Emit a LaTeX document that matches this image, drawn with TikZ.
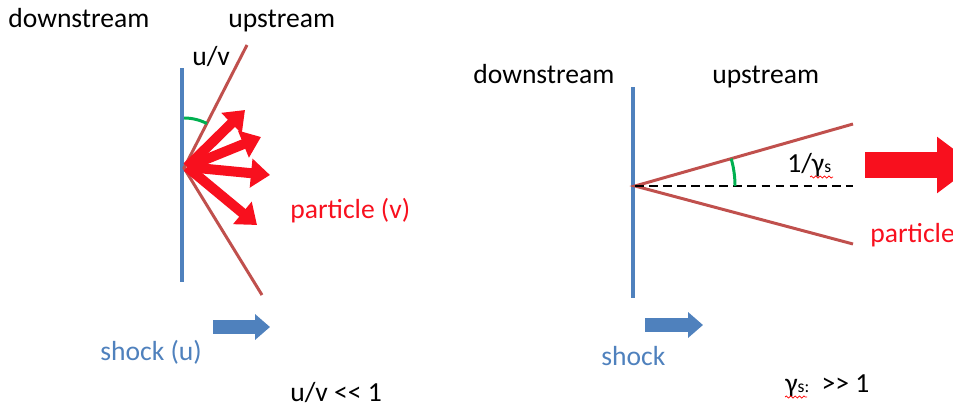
\documentclass[tikz,border=0pt]{standalone}
\usepackage{fontspec}
\setmainfont{Carlito}
\usetikzlibrary{calc,arrows.meta,decorations.pathmorphing}
\definecolor{shockblue}{HTML}{4F81BD}
\definecolor{conered}{HTML}{C0504D}
\definecolor{anglegreen}{HTML}{00B050}
\definecolor{partred}{HTML}{F8101E}

\begin{document}
\begin{tikzpicture}[x=0.02cm,y=-0.02cm,
  lbl/.style={anchor=base west,inner sep=0,font=\fontsize{15.7}{19}\selectfont},
  wall/.style={shockblue,line width=2.8pt},
  cone/.style={conered,line width=1.7pt},
  ang/.style={anglegreen,line width=1.7pt},
  fat/.style={partred,line width=0.2cm,-{Triangle[width=0.56cm,length=0.38cm]}},
  move/.style={shockblue,line width=0.28cm,-{Triangle[width=0.5cm,length=0.3cm]}},
  wavy/.style={red,line width=0.4pt,decorate,decoration={snake,amplitude=0.6pt,segment length=2.5pt}}]
\useasboundingbox (0,0) rectangle (953,409);
\clip (0,0) rectangle (953,409);
% left: u/v << 1
\node[lbl] (dl) at (8,28){downstream};
\node[lbl] (ul) at (228,28){upstream};
\node[lbl] (uv) at (192,65){u/v};
\node[lbl,text=partred] (pl) at (290,218){particle (v)};
\node[lbl,text=shockblue] (sl) at (100,360){shock (u)};
\node[lbl] (cl) at (290,401){u/v <\kern0pt< 1};
\coordinate (a) at (184,168);
\coordinate (at) at (247,45);
\coordinate (ab) at (262,295);
\draw[wall] (182,68) -- (182,282);
\draw[cone] (at) -- (a) -- (ab);
\draw[ang] plot[domain=-90:-62.7,samples=20] ({184+50*cos(\x)},{168+50*sin(\x)});
\foreach \tx/\ty in {245/110,261/137,270/175,257/225}
  \draw[fat] (187,167) -- (\tx,\ty);
\draw[move] (213,327) -- (270,327);
% right: gamma_s >> 1
\node[lbl] (dr) at (473,83){downstream};
\node[lbl] (ur) at (712,83){upstream};
\node[lbl] (gl) at (787,172){1/γ{\fontsize{10}{10}\selectfont s}};
\node[lbl,text=partred] (pr) at (870,242){particle};
\node[lbl,text=shockblue] (sr) at (601,365){shock};
\node[lbl] (gr) at (785,392){γ{\fontsize{10}{10}\selectfont s:}\ \ >\kern0pt> 1};
\coordinate (b) at (635,186);
\coordinate (bt) at (853,124);
\coordinate (bb) at (853,244);
\coordinate (bd) at (853,186);
\draw[wall] (633,87) -- (633,298);
\draw[cone] (bt) -- (b) -- (bb);
\draw[black,line width=0.9pt,dash pattern=on 5pt off 3pt] (b) -- (bd);
\draw[ang] plot[domain=0:-15.9,samples=20] ({635+100*cos(\x)},{186+100*sin(\x)});
\draw[partred,line width=0.52cm,-{Triangle[width=1.08cm,length=0.76cm]}] (865,165) -- (975,165);
\draw[move] (645,325) -- (703,325);
\draw[wavy] (810,177) -- (833,177);
\draw[wavy] (785,397) -- (807,397);
\end{tikzpicture}
\end{document}
